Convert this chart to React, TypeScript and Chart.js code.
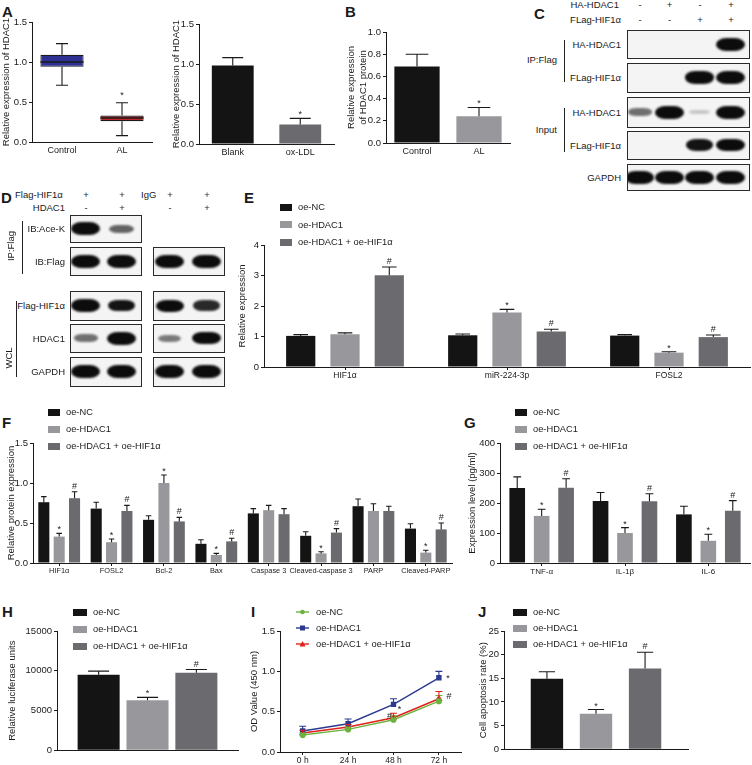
import React, { useEffect, useRef } from "react";
import { Chart, registerables } from "chart.js";

Chart.register(...registerables);

const W = 752;
const H = 765;
const FONT = "'Liberation Sans', Arial, Helvetica, sans-serif";
const TXT = "#1a1a1a";
const AX = "#1a1a1a";
const C_NC = "#141414";
const C_HD = "#98989c";
const C_HH = "#6b6b6f";
const C_BOX1 = "#2e3192";
const C_BOX2 = "#c1272d";
const C_GREEN = "#6cb33f";
const C_BLUE = "#2b3990";
const C_RED = "#e0201b";

// ---------------- data ----------------
// A (left) box plot
const aBoxCats = ["Control", "AL"];
const aBoxMin = [0.71, 0.08];
const aBoxQ1 = [0.94, 0.26];
const aBoxMed = [1.0, 0.3];
const aBoxQ3 = [1.09, 0.33];
const aBoxMax = [1.23, 0.49];
const aBoxMarks = ["", "*"];
// A (right)
const aBarCats = ["Blank", "ox-LDL"];
const aBarVals = [0.98, 0.245];
const aBarErr = [1.08, 0.32];
const aBarMarks = ["", "*"];
// B
const bCats = ["Control", "AL"];
const bVals = [0.69, 0.24];
const bErr = [0.8, 0.32];
const bMarks = ["", "*"];

const groups = ["oe-NC", "oe-HDAC1", "oe-HDAC1 + oe-HIF1α"];

// E
const eCats = ["HIF1α", "miR-224-3p", "FOSL2"];
const eNC = [1.02, 1.04, 1.03];
const eNCErr = [1.06, 1.08, 1.06];
const eHD = [1.07, 1.79, 0.47];
const eHDErr = [1.12, 1.89, 0.5];
const eHH = [3.01, 1.16, 0.98];
const eHHErr = [3.28, 1.24, 1.05];
const eHDMarks = ["", "*", "*"];
const eHHMarks = ["#", "#", "#"];

// F
const fCats = ["HIF1α", "FOSL2", "Bcl-2", "Bax", "Caspase 3", "Cleaved-caspase 3", "PARP", "Cleaved-PARP"];
const fNC = [0.76, 0.68, 0.54, 0.24, 0.62, 0.34, 0.71, 0.43];
const fNCErr = [0.83, 0.76, 0.59, 0.29, 0.68, 0.39, 0.8, 0.49];
const fHD = [0.33, 0.26, 1.0, 0.1, 0.66, 0.12, 0.65, 0.13];
const fHDErr = [0.37, 0.3, 1.1, 0.12, 0.72, 0.14, 0.74, 0.16];
const fHH = [0.81, 0.65, 0.52, 0.27, 0.61, 0.38, 0.65, 0.42];
const fHHErr = [0.89, 0.72, 0.57, 0.31, 0.68, 0.43, 0.71, 0.5];
const fHDMarks = ["*", "*", "*", "*", "", "*", "", "*"];
const fHHMarks = ["#", "#", "#", "#", "", "#", "", "#"];

// G
const gCats = ["TNF-α", "IL-1β", "IL-6"];
const gNC = [250, 207, 162];
const gNCErr = [287, 235, 189];
const gHD = [157, 100, 74];
const gHDErr = [179, 118, 96];
const gHH = [251, 206, 174];
const gHHErr = [281, 231, 208];
const gHDMarks = ["*", "*", "*"];
const gHHMarks = ["#", "#", "#"];

// H
const hNC = [9500];
const hNCErr = [9950];
const hHD = [6300];
const hHDErr = [6650];
const hHH = [9750];
const hHHErr = [10150];

// I
const iLabels = ["0 h", "24 h", "48 h", "72 h"];
const iNC = [0.21, 0.28, 0.4, 0.63];
const iNCErr = [0.235, 0.31, 0.45, 0.7];
const iHD = [0.26, 0.35, 0.59, 0.92];
const iHDErr = [0.32, 0.41, 0.66, 1.0];
const iHH = [0.235, 0.31, 0.425, 0.66];
const iHHErr = [0.27, 0.34, 0.48, 0.75];
const iHDMarks = ["", "", "*", "*"];
const iHHMarks = ["", "", "#", "#"];

// J
const jNC = [14.9];
const jNCErr = [16.4];
const jHD = [7.5];
const jHDErr = [8.4];
const jHH = [17.1];
const jHHErr = [20.5];

// Blots (band intensity 0..1 per lane)
const cHeaderHA = ["-", "+", "-", "+"];
const cHeaderFlag = ["-", "-", "+", "+"];
const cRowLabels = ["HA-HDAC1", "FLag-HIF1α", "HA-HDAC1", "FLag-HIF1α", "GAPDH"];
const cBands = [
  [0, 0, 0, 1],
  [0, 0, 0.95, 1],
  [0.45, 1, 0.08, 1],
  [0, 0, 0.85, 0.95],
  [1, 1, 1, 1],
];
const dRowLabels = ["IB:Ace-K", "IB:Flag", "Flag-HIF1α", "HDAC1", "GAPDH"];
const dLeftBands = [
  [1, 0.5],
  [1, 1],
  [1, 0.85],
  [0.45, 1],
  [1, 1],
];
const dRightBands: (number[] | null)[] = [null, [1, 1], [0.9, 0.75], [0.4, 0.95], [1, 1]];

// ---------------- plugin: error bars, box whiskers, marks ----------------
const errPlugin = {
  id: "errMarks",
  afterDatasetsDraw(chart: any) {
    const ctx = chart.ctx;
    const ys = chart.scales.y;
    chart.data.datasets.forEach((ds: any, di: number) => {
      const meta = chart.getDatasetMeta(di);
      if (!meta || meta.hidden) return;
      meta.data.forEach((el: any, i: number) => {
        const x = el.x;
        let topPx = el.y;
        const isBar = meta.type === "bar";
        ctx.save();
        ctx.strokeStyle = ds.errColor || AX;
        ctx.lineWidth = 1.1;
        let markGap = 0;
        if (ds.box) {
          const hiPx = ys.getPixelForValue(ds.box.max[i]);
          const loPx = ys.getPixelForValue(ds.box.min[i]);
          const q3 = ys.getPixelForValue(ds.box.q3[i]);
          const q1 = ys.getPixelForValue(ds.box.q1[i]);
          const med = ys.getPixelForValue(ds.box.med[i]);
          const w = el.width;
          const cap = 12;
          ctx.beginPath();
          ctx.moveTo(x, q3);
          ctx.lineTo(x, hiPx);
          ctx.moveTo(x - cap / 2, hiPx);
          ctx.lineTo(x + cap / 2, hiPx);
          ctx.moveTo(x, q1);
          ctx.lineTo(x, loPx);
          ctx.moveTo(x - cap / 2, loPx);
          ctx.lineTo(x + cap / 2, loPx);
          ctx.stroke();
          ctx.beginPath();
          ctx.lineWidth = 1.3;
          ctx.moveTo(x - w / 2, med);
          ctx.lineTo(x + w / 2, med);
          ctx.stroke();
          topPx = hiPx;
          markGap = 4;
        } else if (ds.errHi) {
          const ePx = ys.getPixelForValue(ds.errHi[i]);
          const cap = isBar ? el.width * 0.5 : 7;
          ctx.beginPath();
          ctx.moveTo(x, el.y);
          ctx.lineTo(x, ePx);
          ctx.moveTo(x - cap / 2, ePx);
          ctx.lineTo(x + cap / 2, ePx);
          ctx.stroke();
          topPx = ePx;
        }
        const m = ds.marks && ds.marks[i];
        if (m) {
          ctx.fillStyle = TXT;
          ctx.font = `9px ${FONT}`;
          ctx.textAlign = "center";
          ctx.textBaseline = "alphabetic";
          let mx = x;
          let my = topPx - (m === "#" ? 3 : 1) - markGap;
          const off = ds.markOffsets ? ds.markOffsets[i] : null;
          if (off) {
            mx = x + off[0];
            my = el.y + off[1];
          }
          ctx.fillText(m, mx, my);
        }
        ctx.restore();
      });
    });
  },
};

// ---------------- geometry helpers ----------------
const TITLE_SIZE = 9.5;
type G = { left: number; top: number; w: number; h: number; yW: number; pt: number; pr: number; xH: number };
function geom(axisX: number, axisEnd: number, yTop: number, y0: number, titleX: number, xH: number, pt = 8, pr = 4): G {
  const left = Math.round(titleX - (TITLE_SIZE * 1.2) / 2);
  const yW = axisX - left;
  return { left, top: yTop - pt, w: yW + (axisEnd - axisX) + pr, h: pt + (y0 - yTop) + xH, yW, pt, pr, xH };
}

function yScale(g: G, min: number, max: number, step: number, title: string | string[], fmt: (v: number) => string) {
  return {
    type: "linear",
    min,
    max,
    ticks: {
      stepSize: step,
      color: TXT,
      font: { family: FONT, size: 9.5 },
      padding: 2,
      callback: (v: any) => fmt(Number(v)),
    },
    grid: { display: true, drawOnChartArea: false, drawTicks: true, tickLength: 3, color: AX, lineWidth: 1 },
    border: { display: true, color: AX, width: 1 },
    title: { display: true, text: title, color: TXT, font: { family: FONT, size: TITLE_SIZE }, padding: 0 },
    afterFit: (s: any) => {
      s.width = g.yW;
    },
  };
}

function xScale(g: G, labels: boolean, size: number, marks: boolean, pad = 1) {
  return {
    type: "category",
    offset: true,
    ticks: {
      display: labels,
      color: TXT,
      font: { family: FONT, size },
      padding: pad,
      maxRotation: 0,
      minRotation: 0,
      autoSkip: false,
    },
    grid: {
      display: true,
      drawOnChartArea: false,
      drawTicks: marks,
      tickLength: marks ? 3 : 0,
      offset: false,
      color: AX,
      lineWidth: 1,
    },
    border: { display: true, color: AX, width: 1 },
    afterFit: (s: any) => {
      s.height = g.xH;
    },
  };
}

function baseOptions(g: G, x: any, y: any) {
  return {
    responsive: false,
    animation: false,
    events: [],
    layout: { padding: { top: g.pt, right: g.pr, left: 0, bottom: 0 } },
    plugins: { legend: { display: false }, tooltip: { enabled: false } },
    scales: { x, y },
  };
}

const f1 = (v: number) => v.toFixed(1);
const f0 = (v: number) => String(Math.round(v));

// ---------------- chart geometries ----------------
const gA1 = geom(32, 152, 22, 142, 7, 20);
const gA2 = geom(199, 334, 24, 144, 177, 20);
const gB = geom(386, 510, 32, 143, 352, 20);
const gE = geom(264, 750, 245, 367, 243, 20, 8, 2);
const gF = geom(33, 452, 443, 563, 12, 18, 8, 2);
const gG = geom(500, 750, 443, 563, 473, 18, 8, 2);
const gH = geom(57, 238, 631, 752, 13, 6);
const gI = geom(280, 463, 631, 752, 255, 14);
const gJ = geom(504, 688, 631, 751, 484, 6);

function groupedSets(vals: number[][], errs: number[][], marks: (string[] | null)[], bp: number, cp: number) {
  const colors = [C_NC, C_HD, C_HH];
  return vals.map((v, k) => ({
    label: groups[k],
    data: v,
    backgroundColor: colors[k],
    borderWidth: 0,
    barPercentage: bp,
    categoryPercentage: cp,
    errHi: errs[k],
    marks: marks[k],
  }));
}

const configs: Record<string, () => any> = {
  A1: () => ({
    type: "bar",
    data: {
      labels: aBoxCats,
      datasets: [
        {
          data: aBoxCats.map((_, i) => [aBoxQ1[i], aBoxQ3[i]]),
          backgroundColor: [C_BOX1, C_BOX2],
          borderColor: AX,
          borderWidth: 1.1,
          borderSkipped: false,
          barPercentage: 0.72,
          categoryPercentage: 1,
          box: { min: aBoxMin, q1: aBoxQ1, med: aBoxMed, q3: aBoxQ3, max: aBoxMax },
          marks: aBoxMarks,
        },
      ],
    },
    options: baseOptions(gA1, xScale(gA1, true, 9, false, 3), yScale(gA1, 0, 1.5, 0.5, "Relative expression of HDAC1", f1)),
    plugins: [errPlugin],
  }),
  A2: () => ({
    type: "bar",
    data: {
      labels: aBarCats,
      datasets: [
        {
          data: aBarVals,
          backgroundColor: [C_NC, C_HH],
          barPercentage: 0.62,
          categoryPercentage: 1,
          errHi: aBarErr,
          marks: aBarMarks,
        },
      ],
    },
    options: baseOptions(gA2, xScale(gA2, true, 9, false, 3), yScale(gA2, 0, 1.5, 0.5, "Relative expression of HDAC1", f1)),
    plugins: [errPlugin],
  }),
  B: () => ({
    type: "bar",
    data: {
      labels: bCats,
      datasets: [
        {
          data: bVals,
          backgroundColor: [C_NC, C_HD],
          barPercentage: 0.73,
          categoryPercentage: 1,
          errHi: bErr,
          marks: bMarks,
        },
      ],
    },
    options: baseOptions(gB, xScale(gB, true, 9, false, 3), yScale(gB, 0, 1.0, 0.2, ["Relative expression", "of HDAC1 protein"], f1)),
    plugins: [errPlugin],
  }),
  E: () => ({
    type: "bar",
    data: {
      labels: eCats,
      datasets: groupedSets([eNC, eHD, eHH], [eNCErr, eHDErr, eHHErr], [null, eHDMarks, eHHMarks], 0.66, 0.82),
    },
    options: baseOptions(gE, xScale(gE, true, 8.5, true), yScale(gE, 0, 4, 1, "Relative expression", f0)),
    plugins: [errPlugin],
  }),
  F: () => ({
    type: "bar",
    data: {
      labels: fCats,
      datasets: groupedSets([fNC, fHD, fHH], [fNCErr, fHDErr, fHHErr], [null, fHDMarks, fHHMarks], 0.72, 0.88),
    },
    options: baseOptions(gF, xScale(gF, true, 7.4, true), yScale(gF, 0, 1.5, 0.5, "Relative protein expression", f1)),
    plugins: [errPlugin],
  }),
  G: () => ({
    type: "bar",
    data: {
      labels: gCats,
      datasets: groupedSets([gNC, gHD, gHH], [gNCErr, gHDErr, gHHErr], [null, gHDMarks, gHHMarks], 0.64, 0.88),
    },
    options: baseOptions(gG, xScale(gG, true, 8, true), yScale(gG, 0, 400, 100, "Expression level (pg/ml)", f0)),
    plugins: [errPlugin],
  }),
  H: () => ({
    type: "bar",
    data: {
      labels: [""],
      datasets: groupedSets([hNC, hHD, hHH], [hNCErr, hHDErr, hHHErr], [null, ["*"], ["#"]], 0.86, 0.81),
    },
    options: baseOptions(gH, xScale(gH, false, 8, false), yScale(gH, 0, 15000, 5000, "Relative luciferase units", f0)),
    plugins: [errPlugin],
  }),
  I: () => ({
    type: "line",
    data: {
      labels: iLabels,
      datasets: [
        {
          label: groups[0],
          data: iNC,
          borderColor: C_GREEN,
          backgroundColor: C_GREEN,
          pointStyle: "circle",
          pointRadius: 2.4,
          borderWidth: 1.4,
          tension: 0,
          errHi: iNCErr,
          errColor: C_GREEN,
        },
        {
          label: groups[1],
          data: iHD,
          borderColor: C_BLUE,
          backgroundColor: C_BLUE,
          pointStyle: "rect",
          pointRadius: 2.8,
          borderWidth: 1.4,
          tension: 0,
          errHi: iHDErr,
          errColor: C_BLUE,
          marks: iHDMarks,
          markOffsets: [null, null, [6, 8], [9, 3]],
        },
        {
          label: groups[2],
          data: iHH,
          borderColor: C_RED,
          backgroundColor: C_RED,
          pointStyle: "triangle",
          pointRadius: 2.8,
          borderWidth: 1.4,
          tension: 0,
          errHi: iHHErr,
          errColor: C_RED,
          marks: iHHMarks,
          markOffsets: [null, null, [-4, 1], [10, 0]],
        },
      ],
    },
    options: baseOptions(gI, xScale(gI, true, 8.5, true), yScale(gI, 0, 1.5, 0.5, "OD Value (450 nm)", f1)),
    plugins: [errPlugin],
  }),
  J: () => ({
    type: "bar",
    data: {
      labels: [""],
      datasets: groupedSets([jNC, jHD, jHH], [jNCErr, jHDErr, jHHErr], [null, ["*"], ["#"]], 0.66, 0.8),
    },
    options: baseOptions(gJ, xScale(gJ, false, 8, false), yScale(gJ, 0, 25, 5, "Cell apoptosis rate (%)", f0)),
    plugins: [errPlugin],
  }),
};

function ChartBox({ g, id }: { g: G; id: string }) {
  const ref = useRef<HTMLCanvasElement>(null);
  useEffect(() => {
    const c = new Chart(ref.current as HTMLCanvasElement, configs[id]());
    return () => c.destroy();
  }, [id]);
  return (
    <canvas
      ref={ref}
      width={g.w}
      height={g.h}
      style={{ position: "absolute", left: g.left, top: g.top, width: g.w, height: g.h }}
    />
  );
}

// ---------------- text helpers ----------------
function T({
  x,
  y,
  children,
  align = "left",
  size = 9.5,
  bold = false,
  rot = false,
}: {
  x: number;
  y: number;
  children: any;
  align?: "left" | "right" | "center";
  size?: number;
  bold?: boolean;
  rot?: boolean;
}) {
  const lh = Math.round(size * 1.25);
  const st: any = {
    position: "absolute",
    top: y - lh / 2,
    lineHeight: lh + "px",
    fontSize: size,
    fontWeight: bold ? 700 : 400,
    whiteSpace: "nowrap",
    color: TXT,
  };
  if (rot) {
    st.left = x;
    st.top = y;
    st.transform = "translate(-50%,-50%) rotate(-90deg)";
  } else if (align === "left") st.left = x;
  else if (align === "right") st.right = W - x;
  else {
    st.left = x;
    st.transform = "translateX(-50%)";
  }
  return <div style={st}>{children}</div>;
}

function Letter({ x, y, c }: { x: number; y: number; c: string }) {
  return (
    <T x={x} y={y} size={15} bold>
      {c}
    </T>
  );
}

function SquareLegend({ x, ys, sw, colors }: { x: number; ys: number[]; sw: number; colors: string[] }) {
  return (
    <>
      {groups.map((name, k) => (
        <React.Fragment key={k}>
          <div style={{ position: "absolute", left: x, top: ys[k] - 3.5, width: sw, height: 7, background: colors[k] }} />
          <T x={x + sw + 6} y={ys[k]} size={9.3}>
            {name}
          </T>
        </React.Fragment>
      ))}
    </>
  );
}

function LineLegend({ x, ys }: { x: number; ys: number[] }) {
  const cols = [C_GREEN, C_BLUE, C_RED];
  return (
    <>
      {groups.map((name, k) => (
        <React.Fragment key={k}>
          <svg style={{ position: "absolute", left: x, top: ys[k] - 4 }} width={13} height={8}>
            <line x1={0} y1={4} x2={13} y2={4} stroke={cols[k]} strokeWidth={1.4} />
            {k === 0 && <circle cx={6.5} cy={4} r={2.3} fill={cols[k]} />}
            {k === 1 && <rect x={4} y={1.5} width={5} height={5} fill={cols[k]} />}
            {k === 2 && <polygon points="6.5,1 9.5,6.5 3.5,6.5" fill={cols[k]} />}
          </svg>
          <T x={x + 20} y={ys[k]} size={9.3}>
            {name}
          </T>
        </React.Fragment>
      ))}
    </>
  );
}

function Blot({ x1, x2, y1, y2, lanes, bands }: { x1: number; x2: number; y1: number; y2: number; lanes: number[]; bands: number[] }) {
  const hgt = y2 - y1;
  return (
    <div
      style={{
        position: "absolute",
        left: x1,
        top: y1,
        width: x2 - x1,
        height: hgt,
        border: "1.4px solid #2a2a2a",
        boxSizing: "border-box",
        background: "#f4f4f4",
        overflow: "hidden",
      }}
    >
      {bands.map((a, i) => {
        if (a <= 0) return null;
        const bw = 20 + 9 * Math.min(a, 1);
        const bh = 3 + 10 * a;
        return (
          <div
            key={i}
            style={{
              position: "absolute",
              left: lanes[i] - x1 - bw / 2 - 1.4,
              top: hgt / 2 - bh / 2 - 1.4,
              width: bw,
              height: bh,
              background: "#0c0c0c",
              borderRadius: "35% / 50%",
              filter: "blur(1.1px)",
              opacity: Math.min(1, 0.12 + a),
            }}
          />
        );
      })}
    </div>
  );
}

function VLine({ x, y1, y2 }: { x: number; y1: number; y2: number }) {
  return <div style={{ position: "absolute", left: x, top: y1, width: 1.2, height: y2 - y1, background: "#222" }} />;
}

// blot layout
const cLanes = [640, 669.5, 700, 731];
const cRows = [
  [30, 59],
  [63, 93],
  [97, 128],
  [131, 160],
  [164, 191],
];
const dLanesL = [86, 122];
const dLanesR = [170, 207];
const dRows = [
  [215, 243],
  [247, 276],
  [291, 321],
  [324, 353],
  [357, 387],
];

export default function App() {
  return (
    <div
      style={{
        position: "absolute",
        left: 0,
        top: 0,
        width: W,
        height: H,
        background: "#fff",
        overflow: "hidden",
        fontFamily: FONT,
        color: TXT,
      }}
    >
      {/* panel letters */}
      <Letter x={2} y={11} c="A" />
      <Letter x={345} y={11} c="B" />
      <Letter x={534} y={13} c="C" />
      <Letter x={1} y={197} c="D" />
      <Letter x={244} y={197} c="E" />
      <Letter x={2} y={422} c="F" />
      <Letter x={464} y={422} c="G" />
      <Letter x={2} y={611} c="H" />
      <Letter x={251} y={611} c="I" />
      <Letter x={478} y={611} c="J" />

      {/* charts */}
      <ChartBox g={gA1} id="A1" />
      <ChartBox g={gA2} id="A2" />
      <ChartBox g={gB} id="B" />
      <ChartBox g={gE} id="E" />
      <ChartBox g={gF} id="F" />
      <ChartBox g={gG} id="G" />
      <ChartBox g={gH} id="H" />
      <ChartBox g={gI} id="I" />
      <ChartBox g={gJ} id="J" />

      {/* legends */}
      <SquareLegend x={280} ys={[207, 224.5, 242]} sw={12} colors={[C_NC, C_HD, C_HH]} />
      <SquareLegend x={48} ys={[412, 429, 446]} sw={12} colors={[C_NC, C_HD, C_HH]} />
      <SquareLegend x={515} ys={[412, 429, 446]} sw={12} colors={[C_NC, C_HD, C_HH]} />
      <SquareLegend x={73} ys={[612, 629, 646]} sw={14} colors={[C_NC, C_HD, C_HH]} />
      <LineLegend x={296} ys={[612, 628, 644]} />
      <SquareLegend x={513} ys={[612, 628, 644]} sw={14} colors={[C_NC, C_HD, C_HH]} />

      {/* C blot */}
      <T x={619} y={5} align="right">
        HA-HDAC1
      </T>
      <T x={621} y={20} align="right">
        FLag-HIF1α
      </T>
      {cLanes.map((lx, i) => (
        <React.Fragment key={"ch" + i}>
          <T x={lx} y={5} align="center">
            {cHeaderHA[i]}
          </T>
          <T x={lx} y={20} align="center">
            {cHeaderFlag[i]}
          </T>
        </React.Fragment>
      ))}
      {cRows.map((r, k) => (
        <React.Fragment key={"cr" + k}>
          <Blot x1={627} x2={750} y1={r[0]} y2={r[1]} lanes={cLanes} bands={cBands[k]} />
          <T x={621} y={(r[0] + r[1]) / 2} align="right">
            {cRowLabels[k]}
          </T>
        </React.Fragment>
      ))}
      <VLine x={564} y1={40} y2={82} />
      <VLine x={564} y1={108} y2={152} />
      <T x={557} y={60} align="right">
        IP:Flag
      </T>
      <T x={557} y={130} align="right">
        Input
      </T>

      {/* D blot */}
      <T x={15} y={195}>Flag-HIF1α</T>
      <T x={65} y={208} align="right">
        HDAC1
      </T>
      <T x={141} y={195}>IgG</T>
      {[...dLanesL, ...dLanesR].map((lx, i) => (
        <React.Fragment key={"dh" + i}>
          <T x={lx} y={195} align="center">
            +
          </T>
          <T x={lx} y={208} align="center">
            {i % 2 === 0 ? "-" : "+"}
          </T>
        </React.Fragment>
      ))}
      {dRows.map((r, k) => (
        <React.Fragment key={"dr" + k}>
          <Blot x1={70} x2={142} y1={r[0]} y2={r[1]} lanes={dLanesL} bands={dLeftBands[k]} />
          {dRightBands[k] && <Blot x1={153} x2={225} y1={r[0]} y2={r[1]} lanes={dLanesR} bands={dRightBands[k] as number[]} />}
          <T x={65} y={(r[0] + r[1]) / 2} align="right">
            {dRowLabels[k]}
          </T>
        </React.Fragment>
      ))}
      <VLine x={22} y1={221} y2={274} />
      <T x={11} y={246} rot>
        IP:Flag
      </T>
      <VLine x={16} y1={301} y2={377} />
      <T x={9} y={358} rot>
        WCL
      </T>
    </div>
  );
}
